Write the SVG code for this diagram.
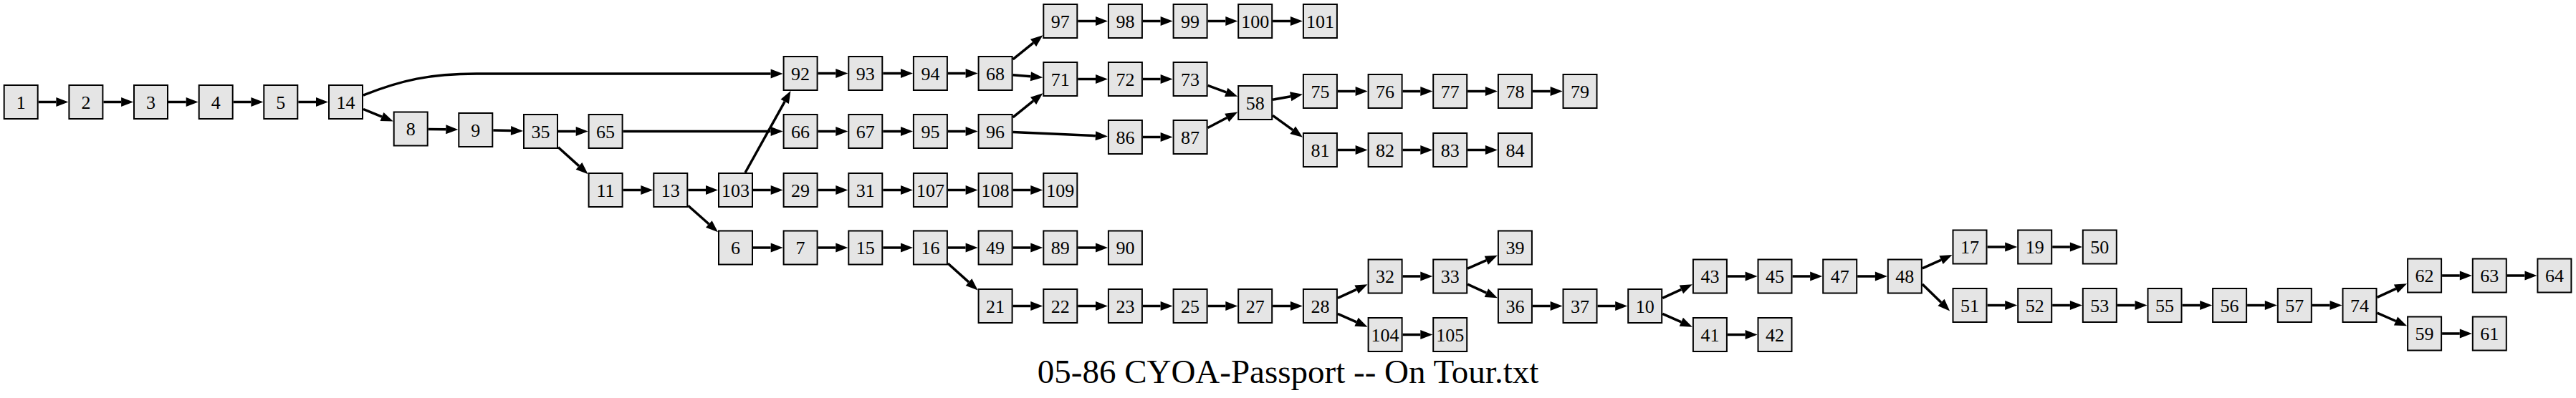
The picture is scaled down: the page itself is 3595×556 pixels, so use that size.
<svg xmlns="http://www.w3.org/2000/svg" width="3595" height="556" viewBox="0 0 3595 556">
<style>
.n text{font-family:"Liberation Serif","Times New Roman",serif;font-size:26px;text-anchor:middle;fill:#000}
.e path{fill:none;stroke:#000;stroke-width:3.5;marker-end:url(#ah)}
.title{font-family:"Liberation Serif","Times New Roman",serif;font-size:47px;text-anchor:middle;fill:#000}
</style>
<defs>
<marker id="ah" markerUnits="userSpaceOnUse" markerWidth="17" markerHeight="14" viewBox="0 0 17 14" refX="0" refY="7" orient="auto" overflow="visible">
<path d="M0,0.5 L17,7 L0,13.5 z" fill="#000"/>
</marker>
<rect id="box" x="-23.5" y="-23.5" width="47" height="47" fill="#e5e5e5" stroke="#000" stroke-width="2"/>
</defs>
<rect width="3595" height="556" fill="#fff"/>
<g id="edges" class="e">
<path d="M53.7,142.5 H78.4"/>
<path d="M144.4,142.5 H169.1"/>
<path d="M235,142.5 H259.7"/>
<path d="M325.7,142.5 H350.4"/>
<path d="M416.3,142.5 H441"/>
<path d="M507,133 C560,112 600,103 665,103 H1075.6"/>
<path d="M507,152.5 L533,163.1"/>
<path d="M597.7,180.4 L622.3,180.8"/>
<path d="M688.3,182 L713,182.6"/>
<path d="M779,183.5 H803.7"/>
<path d="M779,205.7 L808,231.9"/>
<path d="M869.6,183.5 H1075.6"/>
<path d="M1141.6,183.5 H1166.3"/>
<path d="M1232.3,183.5 H1257"/>
<path d="M1322.9,183.5 H1347.6"/>
<path d="M1413.6,163.8 L1442.1,140.9"/>
<path d="M1413.6,184.6 L1528.9,189.65"/>
<path d="M1141.6,102.5 H1166.3"/>
<path d="M1232.3,102.5 H1257"/>
<path d="M1322.9,102.5 H1347.6"/>
<path d="M1413.6,82.8 L1442.1,59.9"/>
<path d="M1413.6,104.7 L1438.4,106.8"/>
<path d="M1504.3,29.5 H1529"/>
<path d="M1594.9,29.5 H1619.6"/>
<path d="M1685.6,29.5 H1710.3"/>
<path d="M1776.2,29.5 H1800.9"/>
<path d="M1504.3,110.5 H1529"/>
<path d="M1594.9,110.5 H1619.6"/>
<path d="M1685.6,119.4 L1711.2,128.8"/>
<path d="M1594.9,191.5 H1619.6"/>
<path d="M1685.6,178.5 L1712.2,164.5"/>
<path d="M1776.2,139.2 L1801.2,134.75"/>
<path d="M1776.2,161.3 L1804.2,181.7"/>
<path d="M1866.9,127.5 H1891.6"/>
<path d="M1957.6,127.5 H1982.3"/>
<path d="M2048.2,127.5 H2072.9"/>
<path d="M2138.9,127.5 H2163.6"/>
<path d="M1866.9,209.5 H1891.6"/>
<path d="M1957.6,209.5 H1982.3"/>
<path d="M2048.2,209.5 H2072.9"/>
<path d="M869.6,265.5 H894.3"/>
<path d="M960.3,265.5 H985"/>
<path d="M960.3,287.2 L989.3,313"/>
<path d="M1040.1,241 L1095.2,141.9"/>
<path d="M1051,265.5 H1075.7"/>
<path d="M1141.6,265.5 H1166.3"/>
<path d="M1232.3,265.5 H1257"/>
<path d="M1322.9,265.5 H1347.6"/>
<path d="M1413.6,265.5 H1438.3"/>
<path d="M1051,346 H1075.7"/>
<path d="M1141.6,346 H1166.3"/>
<path d="M1232.3,346 H1257"/>
<path d="M1322.9,346 H1347.6"/>
<path d="M1322.9,368 L1352,394.1"/>
<path d="M1413.6,346 H1438.3"/>
<path d="M1504.3,346 H1529"/>
<path d="M1413.6,427.5 H1438.3"/>
<path d="M1504.3,427.5 H1529"/>
<path d="M1594.9,427.5 H1619.6"/>
<path d="M1685.6,427.5 H1710.3"/>
<path d="M1776.2,427.5 H1800.9"/>
<path d="M1866.9,416.3 L1893.1,404.3"/>
<path d="M1866.9,438.3 L1893,449.8"/>
<path d="M1957.6,386 H1982.3"/>
<path d="M1957.6,467.5 H1982.3"/>
<path d="M2048.2,375.2 L2074.3,363.7"/>
<path d="M2048.2,397.2 L2074.4,409.2"/>
<path d="M2138.9,427.5 H2163.6"/>
<path d="M2229.5,427.5 H2254.2"/>
<path d="M2320.2,416.3 L2346.4,404.3"/>
<path d="M2320.2,438.3 L2346.3,449.8"/>
<path d="M2410.9,386 H2435.6"/>
<path d="M2501.5,386 H2526.2"/>
<path d="M2592.2,386 H2616.9"/>
<path d="M2410.9,467.5 H2435.6"/>
<path d="M2682.8,374.9 L2709,363.1"/>
<path d="M2682.8,396.9 L2709,422.5"/>
<path d="M2773.5,345 H2798.2"/>
<path d="M2864.2,345 H2888.9"/>
<path d="M2773.5,426.5 H2798.2"/>
<path d="M2864.2,426.5 H2888.9"/>
<path d="M2954.8,426.5 H2979.5"/>
<path d="M3045.5,426.5 H3070.2"/>
<path d="M3136.1,426.5 H3160.8"/>
<path d="M3226.8,426.5 H3251.5"/>
<path d="M3317.5,415.3 L3343.6,403.3"/>
<path d="M3317.5,437.2 L3343.5,448.5"/>
<path d="M3408.1,385 H3432.8"/>
<path d="M3498.8,385 H3523.5"/>
<path d="M3408.1,466 H3432.8"/>
</g>
<g id="n1" class="n" transform="translate(29.2,142.5)"><use href="#box"/><text y="9">1</text></g>
<g id="n2" class="n" transform="translate(119.9,142.5)"><use href="#box"/><text y="9">2</text></g>
<g id="n3" class="n" transform="translate(210.5,142.5)"><use href="#box"/><text y="9">3</text></g>
<g id="n4" class="n" transform="translate(301.2,142.5)"><use href="#box"/><text y="9">4</text></g>
<g id="n5" class="n" transform="translate(391.8,142.5)"><use href="#box"/><text y="9">5</text></g>
<g id="n14" class="n" transform="translate(482.5,142.5)"><use href="#box"/><text y="9">14</text></g>
<g id="n8" class="n" transform="translate(573.2,180)"><use href="#box"/><text y="9">8</text></g>
<g id="n9" class="n" transform="translate(663.8,181.5)"><use href="#box"/><text y="9">9</text></g>
<g id="n35" class="n" transform="translate(754.5,183.5)"><use href="#box"/><text y="9">35</text></g>
<g id="n65" class="n" transform="translate(845.1,183.5)"><use href="#box"/><text y="9">65</text></g>
<g id="n66" class="n" transform="translate(1117.1,183.5)"><use href="#box"/><text y="9">66</text></g>
<g id="n67" class="n" transform="translate(1207.8,183.5)"><use href="#box"/><text y="9">67</text></g>
<g id="n95" class="n" transform="translate(1298.4,183.5)"><use href="#box"/><text y="9">95</text></g>
<g id="n96" class="n" transform="translate(1389.1,183.5)"><use href="#box"/><text y="9">96</text></g>
<g id="n86" class="n" transform="translate(1570.4,191.5)"><use href="#box"/><text y="9">86</text></g>
<g id="n87" class="n" transform="translate(1661.1,191.5)"><use href="#box"/><text y="9">87</text></g>
<g id="n92" class="n" transform="translate(1117.1,102.5)"><use href="#box"/><text y="9">92</text></g>
<g id="n93" class="n" transform="translate(1207.8,102.5)"><use href="#box"/><text y="9">93</text></g>
<g id="n94" class="n" transform="translate(1298.4,102.5)"><use href="#box"/><text y="9">94</text></g>
<g id="n68" class="n" transform="translate(1389.1,102.5)"><use href="#box"/><text y="9">68</text></g>
<g id="n97" class="n" transform="translate(1479.8,29.5)"><use href="#box"/><text y="9">97</text></g>
<g id="n98" class="n" transform="translate(1570.4,29.5)"><use href="#box"/><text y="9">98</text></g>
<g id="n99" class="n" transform="translate(1661.1,29.5)"><use href="#box"/><text y="9">99</text></g>
<g id="n100" class="n" transform="translate(1751.7,29.5)"><use href="#box"/><text y="9">100</text></g>
<g id="n101" class="n" transform="translate(1842.4,29.5)"><use href="#box"/><text y="9">101</text></g>
<g id="n71" class="n" transform="translate(1479.8,110.5)"><use href="#box"/><text y="9">71</text></g>
<g id="n72" class="n" transform="translate(1570.4,110.5)"><use href="#box"/><text y="9">72</text></g>
<g id="n73" class="n" transform="translate(1661.1,110.5)"><use href="#box"/><text y="9">73</text></g>
<g id="n58" class="n" transform="translate(1751.7,143.5)"><use href="#box"/><text y="9">58</text></g>
<g id="n75" class="n" transform="translate(1842.4,127.5)"><use href="#box"/><text y="9">75</text></g>
<g id="n76" class="n" transform="translate(1933.1,127.5)"><use href="#box"/><text y="9">76</text></g>
<g id="n77" class="n" transform="translate(2023.7,127.5)"><use href="#box"/><text y="9">77</text></g>
<g id="n78" class="n" transform="translate(2114.4,127.5)"><use href="#box"/><text y="9">78</text></g>
<g id="n79" class="n" transform="translate(2205,127.5)"><use href="#box"/><text y="9">79</text></g>
<g id="n81" class="n" transform="translate(1842.4,209.5)"><use href="#box"/><text y="9">81</text></g>
<g id="n82" class="n" transform="translate(1933.1,209.5)"><use href="#box"/><text y="9">82</text></g>
<g id="n83" class="n" transform="translate(2023.7,209.5)"><use href="#box"/><text y="9">83</text></g>
<g id="n84" class="n" transform="translate(2114.4,209.5)"><use href="#box"/><text y="9">84</text></g>
<g id="n11" class="n" transform="translate(845.1,265.5)"><use href="#box"/><text y="9">11</text></g>
<g id="n13" class="n" transform="translate(935.8,265.5)"><use href="#box"/><text y="9">13</text></g>
<g id="n103" class="n" transform="translate(1026.5,265.5)"><use href="#box"/><text y="9">103</text></g>
<g id="n29" class="n" transform="translate(1117.1,265.5)"><use href="#box"/><text y="9">29</text></g>
<g id="n31" class="n" transform="translate(1207.8,265.5)"><use href="#box"/><text y="9">31</text></g>
<g id="n107" class="n" transform="translate(1298.4,265.5)"><use href="#box"/><text y="9">107</text></g>
<g id="n108" class="n" transform="translate(1389.1,265.5)"><use href="#box"/><text y="9">108</text></g>
<g id="n109" class="n" transform="translate(1479.8,265.5)"><use href="#box"/><text y="9">109</text></g>
<g id="n6" class="n" transform="translate(1026.5,346)"><use href="#box"/><text y="9">6</text></g>
<g id="n7" class="n" transform="translate(1117.1,346)"><use href="#box"/><text y="9">7</text></g>
<g id="n15" class="n" transform="translate(1207.8,346)"><use href="#box"/><text y="9">15</text></g>
<g id="n16" class="n" transform="translate(1298.4,346)"><use href="#box"/><text y="9">16</text></g>
<g id="n49" class="n" transform="translate(1389.1,346)"><use href="#box"/><text y="9">49</text></g>
<g id="n89" class="n" transform="translate(1479.8,346)"><use href="#box"/><text y="9">89</text></g>
<g id="n90" class="n" transform="translate(1570.4,346)"><use href="#box"/><text y="9">90</text></g>
<g id="n21" class="n" transform="translate(1389.1,427.5)"><use href="#box"/><text y="9">21</text></g>
<g id="n22" class="n" transform="translate(1479.8,427.5)"><use href="#box"/><text y="9">22</text></g>
<g id="n23" class="n" transform="translate(1570.4,427.5)"><use href="#box"/><text y="9">23</text></g>
<g id="n25" class="n" transform="translate(1661.1,427.5)"><use href="#box"/><text y="9">25</text></g>
<g id="n27" class="n" transform="translate(1751.7,427.5)"><use href="#box"/><text y="9">27</text></g>
<g id="n28" class="n" transform="translate(1842.4,427.5)"><use href="#box"/><text y="9">28</text></g>
<g id="n32" class="n" transform="translate(1933.1,386)"><use href="#box"/><text y="9">32</text></g>
<g id="n33" class="n" transform="translate(2023.7,386)"><use href="#box"/><text y="9">33</text></g>
<g id="n104" class="n" transform="translate(1933.1,467.5)"><use href="#box"/><text y="9">104</text></g>
<g id="n105" class="n" transform="translate(2023.7,467.5)"><use href="#box"/><text y="9">105</text></g>
<g id="n39" class="n" transform="translate(2114.4,346)"><use href="#box"/><text y="9">39</text></g>
<g id="n36" class="n" transform="translate(2114.4,427.5)"><use href="#box"/><text y="9">36</text></g>
<g id="n37" class="n" transform="translate(2205,427.5)"><use href="#box"/><text y="9">37</text></g>
<g id="n10" class="n" transform="translate(2295.7,427.5)"><use href="#box"/><text y="9">10</text></g>
<g id="n43" class="n" transform="translate(2386.4,386)"><use href="#box"/><text y="9">43</text></g>
<g id="n45" class="n" transform="translate(2477,386)"><use href="#box"/><text y="9">45</text></g>
<g id="n47" class="n" transform="translate(2567.7,386)"><use href="#box"/><text y="9">47</text></g>
<g id="n48" class="n" transform="translate(2658.3,386)"><use href="#box"/><text y="9">48</text></g>
<g id="n41" class="n" transform="translate(2386.4,467.5)"><use href="#box"/><text y="9">41</text></g>
<g id="n42" class="n" transform="translate(2477,467.5)"><use href="#box"/><text y="9">42</text></g>
<g id="n17" class="n" transform="translate(2749,345)"><use href="#box"/><text y="9">17</text></g>
<g id="n19" class="n" transform="translate(2839.7,345)"><use href="#box"/><text y="9">19</text></g>
<g id="n50" class="n" transform="translate(2930.3,345)"><use href="#box"/><text y="9">50</text></g>
<g id="n51" class="n" transform="translate(2749,426.5)"><use href="#box"/><text y="9">51</text></g>
<g id="n52" class="n" transform="translate(2839.7,426.5)"><use href="#box"/><text y="9">52</text></g>
<g id="n53" class="n" transform="translate(2930.3,426.5)"><use href="#box"/><text y="9">53</text></g>
<g id="n55" class="n" transform="translate(3021,426.5)"><use href="#box"/><text y="9">55</text></g>
<g id="n56" class="n" transform="translate(3111.6,426.5)"><use href="#box"/><text y="9">56</text></g>
<g id="n57" class="n" transform="translate(3202.3,426.5)"><use href="#box"/><text y="9">57</text></g>
<g id="n74" class="n" transform="translate(3293,426.5)"><use href="#box"/><text y="9">74</text></g>
<g id="n62" class="n" transform="translate(3383.6,385)"><use href="#box"/><text y="9">62</text></g>
<g id="n63" class="n" transform="translate(3474.3,385)"><use href="#box"/><text y="9">63</text></g>
<g id="n64" class="n" transform="translate(3564.9,385)"><use href="#box"/><text y="9">64</text></g>
<g id="n59" class="n" transform="translate(3383.6,466)"><use href="#box"/><text y="9">59</text></g>
<g id="n61" class="n" transform="translate(3474.3,466)"><use href="#box"/><text y="9">61</text></g>
<text class="title" x="1797.5" y="535">05-86 CYOA-Passport -- On Tour.txt</text>
</svg>
